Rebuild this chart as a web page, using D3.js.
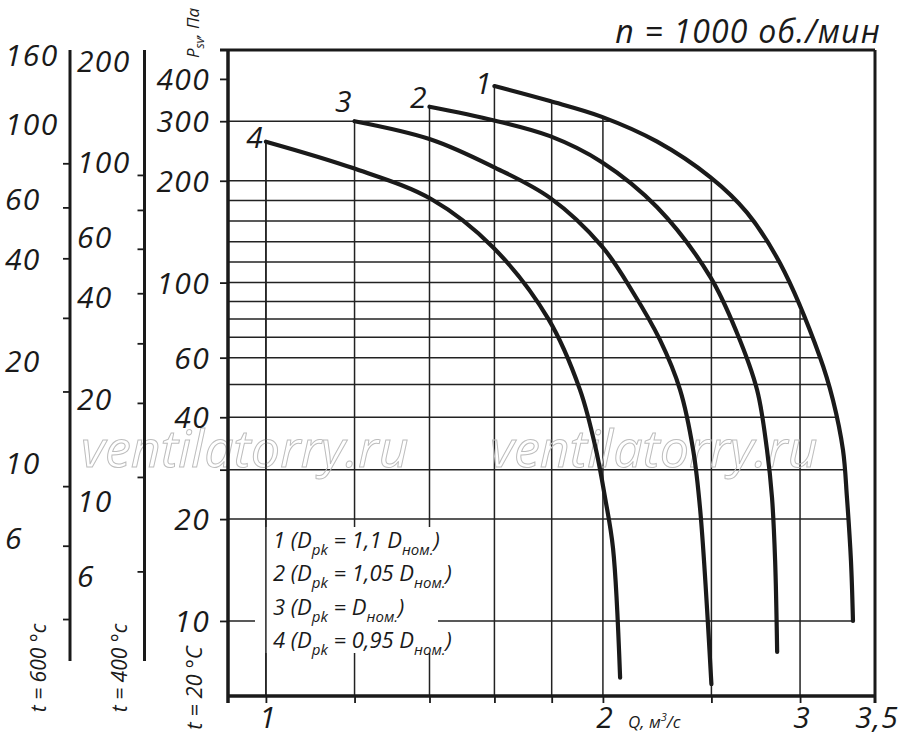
<!DOCTYPE html>
<html>
<head>
<meta charset="utf-8">
<script src="https://cdn.jsdelivr.net/npm/d3@7"></script>
<style>
    body { margin: 0; background: #fff; }
    svg text { font-family: "Open Sans", sans-serif; font-style: italic; fill: #1a1a1a; }
</style>
</head>
<body>
<div id="graph"></div>
<script>
// fan curves, Q in m3/s, P in Pa (t = 20 C)
const curveNames = ['1', '2', '3', '4'];
const curve1Q = [1.6, 1.794, 1.996, 2.236, 2.494, 2.69, 2.879, 3.125, 3.21, 3.277, 3.304, 3.331, 3.345];
const curve1P = [381, 344, 309, 261, 205, 161, 114, 60.3, 45, 32, 23.1, 15.1, 10];
const curve2Q = [1.4, 1.596, 1.794, 1.996, 2.236, 2.494, 2.635, 2.746, 2.803, 2.832, 2.850, 2.862];
const curve2P = [331, 302, 271, 227, 167, 104, 71, 48.2, 32, 23.1, 15.1, 8.1];
const curve3Q = [1.2, 1.404, 1.596, 1.794, 1.996, 2.128, 2.249, 2.344, 2.408, 2.443, 2.5];
const curve3P = [300, 265, 220, 178, 128, 93.5, 67.7, 48.2, 32, 21.3, 6.5];
const curve4Q = [1.0, 1.196, 1.407, 1.596, 1.787, 1.908, 1.972, 2.009, 2.042, 2.072];
const curve4P = [261, 218, 176, 127, 78.3, 48.2, 32, 23.1, 16.4, 6.8];

const legendRows = [
    ['1 (D', 'pk', ' = 1,1 D', 'ном.', ')'],
    ['2 (D', 'pk', ' = 1,05 D', 'ном.', ')'],
    ['3 (D', 'pk', ' = D', 'ном.', ')'],
    ['4 (D', 'pk', ' = 0,95 D', 'ном.', ')']
];

const qGrid = [1, 1.2, 1.4, 1.6, 1.8, 2, 2.5, 3];
const qLabels = [1, 2, 3, 3.5];
const pGrid = [300, 200, 175, 152, 132, 115, 100, 88, 78, 69, 60, 50, 40, 28, 20, 10];
const pTicks = [400, 300, 200, 100, 60, 40, 28, 20, 10];
const pLabels = [400, 300, 200, 100, 60, 40, 20, 10];

// extra pressure scales for hot gas
const ratio600 = 293 / 873;
const ratio400 = 293 / 673;
const t600Labels = [160, 100, 60, 40, 20, 10, 6];
const t600Ticks = [75.6, 56, 39.6, 26.4, 16, 8.4, 5.6, 3.4];
const t400Labels = [200, 100, 60, 40, 20, 10, 6];
const t400Ticks = [90.6, 71.4, 54.8, 40.5, 28.8, 19.2, 11.6, 6.1];

const qDomain = [0.925, 3.5];
const pDomain = [6, 487];

function render(){
    const curves = [
        {name: curveNames[0], q: curve1Q, p: curve1P},
        {name: curveNames[1], q: curve2Q, p: curve2P},
        {name: curveNames[2], q: curve3Q, p: curve3P},
        {name: curveNames[3], q: curve4Q, p: curve4P}
    ];

    const left = 228, right = 875, top = 50, bottom = 696;

    const x = d3.scaleLog().domain(qDomain).range([left, right]);
    const y = d3.scaleLog().domain(pDomain).range([bottom, top]);
    const y600 = d3.scaleLog().domain(pDomain.map(d => d * ratio600)).range([bottom, top]);
    const y400 = d3.scaleLog().domain(pDomain.map(d => d * ratio400)).range([bottom, top]);

    const svg = d3.select('#graph')
        .append('svg')
        .attr('width', 900)
        .attr('height', 745);

    // log-log interpolation along a curve
    function pAt(c, q){
        const n = c.q.length;
        if (q < c.q[0] - 1e-6 || q > c.q[n - 1] + 1e-6) return null;
        for (let i = 0; i < n - 1; i++){
            if (q <= c.q[i + 1] + 1e-6){
                const t = (Math.log(q) - Math.log(c.q[i])) / (Math.log(c.q[i + 1]) - Math.log(c.q[i]));
                return Math.exp(Math.log(c.p[i]) + t * (Math.log(c.p[i + 1]) - Math.log(c.p[i])));
            }
        }
        return c.p[n - 1];
    }
    function qAt(c, p){
        const n = c.p.length;
        if (p > c.p[0] + 1e-6 || p < c.p[n - 1] - 1e-6) return null;
        for (let i = 0; i < n - 1; i++){
            if (p >= c.p[i + 1] - 1e-6){
                const t = (Math.log(p) - Math.log(c.p[i])) / (Math.log(c.p[i + 1]) - Math.log(c.p[i]));
                return Math.exp(Math.log(c.q[i]) + t * (Math.log(c.q[i + 1]) - Math.log(c.q[i])));
            }
        }
        return c.q[n - 1];
    }
    const topAt = q => d3.max(curves, c => pAt(c, q));
    const endAt = p => d3.max(curves, c => qAt(c, p));

    /* grid ------------*/
    const grid = svg.append('g')
        .attr('stroke', '#222')
        .attr('stroke-width', 1.5);

    grid.selectAll('line.h')
        .data(pGrid)
        .enter()
        .append('line')
        .attr('class', 'h')
        .attr('x1', left)
        .attr('x2', d => x(endAt(d)))
        .attr('y1', d => y(d))
        .attr('y2', d => y(d));

    grid.selectAll('line.v')
        .data(qGrid)
        .enter()
        .append('line')
        .attr('class', 'v')
        .attr('x1', d => x(d))
        .attr('x2', d => x(d))
        .attr('y1', bottom)
        .attr('y2', d => y(topAt(d)));

    // watermark
    svg.selectAll('text.wm')
        .data([81, 490])
        .enter()
        .append('text')
        .attr('class', 'wm')
        .attr('x', d => d)
        .attr('y', 467)
        .attr('font-size', 52)
        .style('fill', 'none')
        .attr('stroke', '#bdbdbd')
        .attr('stroke-width', 1)
        .text('ventilatorry.ru');

    /* legend ------------*/
    svg.append('rect')
        .attr('x', 255)
        .attr('y', 527)
        .attr('width', 183)
        .attr('height', 126)
        .attr('fill', '#fff');

    svg.append('line')
        .attr('stroke', '#222')
        .attr('stroke-width', 1.5)
        .attr('x1', x(qGrid[0]))
        .attr('x2', x(qGrid[0]))
        .attr('y1', bottom)
        .attr('y2', y(topAt(qGrid[0])));

    const legend = svg.append('g');
    legendRows.forEach(function(row, i){
        const t = legend.append('text')
            .attr('x', 273)
            .attr('y', 548 + i * 33.4)
            .attr('font-size', 22);
        row.forEach(function(part, j){
            const sub = j % 2 === 1;
            t.append('tspan')
                .attr('dy', j === 0 ? 0 : (sub ? 7 : -7))
                .attr('font-size', sub ? 15 : 22)
                .text(part);
        });
    });

    /* curves ------------*/
    const line = d3.line()
        .x(d => x(d[0]))
        .y(d => y(d[1]))
        .curve(d3.curveCatmullRom.alpha(0.5));

    svg.append('g')
        .selectAll('path')
        .data(curves)
        .enter()
        .append('path')
        .attr('fill', 'none')
        .attr('stroke', '#1a1a1a')
        .attr('stroke-width', 4.2)
        .attr('stroke-linecap', 'round')
        .attr('d', c => line(c.q.map((q, i) => [q, c.p[i]])));

    const labelDy = [8, 1, -9, 6];
    svg.append('g')
        .selectAll('text')
        .data(curves)
        .enter()
        .append('text')
        .attr('x', c => x(c.q[0]) - 3)
        .attr('y', (c, i) => y(c.p[0]) + labelDy[i])
        .attr('text-anchor', 'end')
        .attr('font-size', 30)
        .text(c => c.name);

    /* frame and axes ------------*/
    const frame = svg.append('g').attr('stroke', '#1a1a1a');
    frame.append('line').attr('x1', left).attr('x2', left).attr('y1', top).attr('y2', bottom + 7).attr('stroke-width', 3.5);
    frame.append('line').attr('x1', left).attr('x2', right).attr('y1', bottom).attr('y2', bottom).attr('stroke-width', 3.5);
    frame.append('line').attr('x1', left - 8).attr('x2', right).attr('y1', top).attr('y2', top).attr('stroke-width', 3);
    frame.append('line').attr('x1', right).attr('x2', right).attr('y1', top).attr('y2', bottom + 7).attr('stroke-width', 3);

    const yAxis = svg.append('g')
        .attr('transform', `translate(${left},0)`)
        .call(d3.axisLeft(y).tickValues(pTicks).tickSize(8).tickFormat(''));
    const xAxis = svg.append('g')
        .attr('transform', `translate(0,${bottom})`)
        .call(d3.axisBottom(x).tickValues(qGrid).tickSize(7).tickFormat(''));
    [yAxis, xAxis].forEach(function(a){
        a.select('.domain').remove();
        a.selectAll('line').attr('stroke', '#1a1a1a').attr('stroke-width', 1.8);
    });

    svg.append('g')
        .selectAll('text')
        .data(pLabels)
        .enter()
        .append('text')
        .attr('x', 210)
        .attr('y', d => y(d) + 11)
        .attr('text-anchor', 'end')
        .attr('font-size', 30)
        .attr('letter-spacing', 1.3)
        .text(d => d);

    svg.append('g')
        .selectAll('text')
        .data(qLabels)
        .enter()
        .append('text')
        .attr('x', d => x(d) + 2)
        .attr('y', 728)
        .attr('text-anchor', 'middle')
        .attr('font-size', 30)
        .attr('letter-spacing', 1)
        .text(d => String(d).replace('.', ','));

    // side scales t = 600 and t = 400
    function sideScale(scale, xLine, labelX, ticks, labels){
        const g = svg.append('g');
        g.append('line')
            .attr('x1', xLine).attr('x2', xLine)
            .attr('y1', top).attr('y2', 661)
            .attr('stroke', '#1a1a1a')
            .attr('stroke-width', 3);
        const a = g.append('g')
            .attr('transform', `translate(${xLine},0)`)
            .call(d3.axisLeft(scale).tickValues(ticks).tickSize(7).tickFormat(''));
        a.select('.domain').remove();
        a.selectAll('line').attr('stroke', '#1a1a1a').attr('stroke-width', 1.8);
        g.selectAll('text.lab')
            .data(labels)
            .enter()
            .append('text')
            .attr('class', 'lab')
            .attr('x', labelX)
            .attr('y', d => scale(d) + 13)
            .attr('font-size', 30)
            .attr('letter-spacing', 1.3)
            .text(d => d);
    }
    sideScale(y600, 70, 5, t600Ticks, t600Labels);
    sideScale(y400, 144.5, 77, t400Ticks, t400Labels);

    /* titles ------------*/
    const vtitle = [
        {text: 't = 600 °c', x: 46, y: 668, size: 21},
        {text: 't = 400 °c', x: 127, y: 668, size: 21},
        {text: 't = 20 °C', x: 202, y: 688, size: 22}
    ];
    svg.selectAll('text.vt')
        .data(vtitle)
        .enter()
        .append('text')
        .attr('class', 'vt')
        .attr('transform', d => `translate(${d.x},${d.y}) rotate(-90)`)
        .attr('text-anchor', 'middle')
        .attr('font-size', d => d.size)
        .text(d => d.text);

    const ps = svg.append('text')
        .attr('transform', 'translate(199,58) rotate(-90)')
        .attr('font-size', 17);
    ps.append('tspan').text('P');
    ps.append('tspan').attr('dy', 5).attr('font-size', 12).text('sv');
    ps.append('tspan').attr('dy', -5).text(', Па');

    const qt = svg.append('text')
        .attr('x', 628)
        .attr('y', 728)
        .attr('font-size', 17);
    qt.append('tspan').text('Q, м');
    qt.append('tspan').attr('dy', -7).attr('font-size', 11).text('3');
    qt.append('tspan').attr('dy', 7).text('/с');

    svg.append('text')
        .attr('x', 881)
        .attr('y', 43)
        .attr('text-anchor', 'end')
        .attr('font-size', 32)
        .attr('letter-spacing', 1.2)
        .text('n = 1000 об./мин');
}

render()
</script>
</body>
</html>
